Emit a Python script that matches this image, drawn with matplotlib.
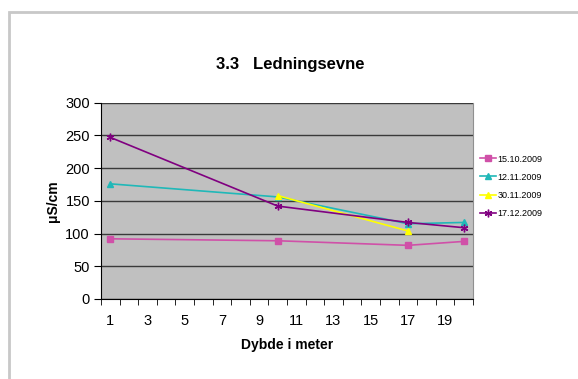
import numpy as np
import matplotlib.pyplot as plt
from matplotlib.patches import Rectangle

plt.rcParams["font.family"] = ["Liberation Sans", "DejaVu Sans"]

# -----------------------------
# Data
# -----------------------------
depths = [1, 10, 17, 20]
dates = ["15.10.2009", "12.11.2009", "30.11.2009", "17.12.2009"]

cond_1510 = [92, 89, 82, 88]
cond_1211 = [176, 156, 115, 117]
cond_3011 = [np.nan, 158, 104, np.nan]
cond_1712 = [247, 142, 117, 109]

series = [cond_1510, cond_1211, cond_3011, cond_1712]
colors = ["#D050A8", "#20B8B8", "#FFFF00", "#800080"]
markers = ["s", "^", "^", (6, 2, 0)]
msizes = [5, 5, 5, 5.5]

x_labels = list(range(1, 21, 2))

# -----------------------------
# Plot
# -----------------------------
fig = plt.figure(figsize=(5.78, 3.79), dpi=100)
fig.patches.append(Rectangle((9 / 578, -0.1), 1.2, 1 - 12 / 379 + 0.1,
                             transform=fig.transFigure, fill=False,
                             edgecolor="#C8C8C8", linewidth=2))

ax = fig.add_axes([101 / 578, 1 - 299 / 379, 372 / 578, 196.3 / 379])
ax.set_facecolor("#C0C0C0")

for vals, c, m, ms, lab in zip(series, colors, markers, msizes, dates):
    ax.plot(depths, vals, color=c, marker=m, markersize=ms, linewidth=1.2,
            markeredgecolor=c, label=lab, zorder=3)

ax.set_xlim(0.5, 20.5)
ax.set_ylim(0, 300)
ax.set_yticks(range(0, 301, 50))
ax.yaxis.grid(True, color="#3A3A3A", linewidth=1)
ax.set_axisbelow(True)

ax.set_xticks(x_labels)
ax.set_xticks(np.arange(0.5, 21, 1), minor=True)
ax.tick_params(axis="x", which="major", length=0, pad=11, labelsize=10.5)
ax.tick_params(axis="x", which="minor", length=4, direction="out", color="black")
ax.tick_params(axis="y", length=5, direction="out", labelsize=10.5, pad=3)

ax.spines["top"].set_visible(False)
ax.spines["right"].set_color("#909090")
ax.spines["left"].set_color("black")
ax.spines["bottom"].set_color("black")

ax.set_xlabel("Dybde i meter", fontsize=10, fontweight="bold", labelpad=7)
ax.set_ylabel("μS/cm", fontsize=10, fontweight="bold", labelpad=4)
fig.text(290 / 578, 1 - 65 / 379, "3.3   Ledningsevne", ha="center", va="center",
         fontsize=12, fontweight="bold")

fig.legend(loc="upper left", bbox_to_anchor=(476 / 578, 1 - 151 / 379),
           frameon=False, fontsize=6.5, handlelength=1.8, handletextpad=0.2,
           labelspacing=1.0, borderaxespad=0)

fig.savefig("out.png", dpi=100)
